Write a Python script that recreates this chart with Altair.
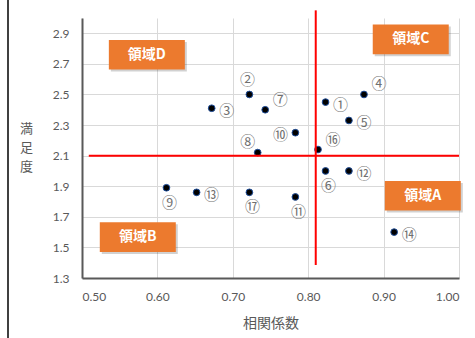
import altair as alt
import pandas as pd

# Data points
nums = ["①", "②", "③", "④", "⑤", "⑥", "⑦", "⑧", "⑨", "⑩", "⑪", "⑫", "⑬", "⑭", "⑯", "⑰"]
corr = [0.823, 0.722, 0.672, 0.874, 0.854, 0.823, 0.743, 0.733, 0.612, 0.783, 0.783, 0.854, 0.652, 0.914, 0.813, 0.722]
sat = [2.45, 2.50, 2.41, 2.50, 2.33, 2.00, 2.40, 2.12, 1.89, 2.25, 1.83, 2.00, 1.86, 1.60, 2.14, 1.86]
place = ["right", "above", "right", "upright", "right", "below", "upright", "upleft", "below", "left",
         "below", "right", "right", "right", "upright", "below"]

# Quadrant boxes
regions = ["領域D", "領域C", "領域A", "領域B"]
region_x = [0.586, 0.936, 0.952, 0.574]
region_y = [2.76, 2.86, 1.838, 1.567]

# Threshold lines
x_thresh = 0.81
y_thresh = 2.1

x_ticks = [0.5, 0.6, 0.7, 0.8, 0.9, 1.0]
y_ticks = [1.3, 1.5, 1.7, 1.9, 2.1, 2.3, 2.5, 2.7, 2.9]

df = pd.DataFrame({"num": nums, "x": corr, "y": sat, "place": place})
reg = pd.DataFrame({"label": regions, "x": region_x, "y": region_y})
hline = pd.DataFrame({"x": [0.509], "x2": [1.0], "y": [y_thresh]})
vline = pd.DataFrame({"x": [x_thresh], "y": [1.385], "y2": [3.05]})

xs = alt.Scale(domain=[0.5, 1.0], nice=False, zero=False)
ys = alt.Scale(domain=[1.3, 3.0], nice=False, zero=False)

x_axis = alt.Axis(
    values=x_ticks, format=".2f", title="相関係数", grid=True, gridColor="#d9d9d9",
    domainColor="#595959", domainWidth=2, ticks=False, labelPadding=13,
    labelColor="#595959", labelFont="Lato", labelFontSize=12, labelOverlap=False,
    titleColor="#595959", titleFont="Noto Sans CJK JP", titleFontSize=14,
    titleFontWeight="normal", titlePadding=14)
y_axis = alt.Axis(
    values=y_ticks, format=".1f", title=["満", "足", "度"], grid=True, gridColor="#d9d9d9",
    domainColor="#595959", domainWidth=2, ticks=False, labelPadding=13,
    labelColor="#595959", labelFont="Lato", labelFontSize=12, labelOverlap=False,
    titleColor="#595959", titleFont="Noto Sans CJK JP", titleFontSize=13,
    titleFontWeight="normal", titleAngle=0, titleX=-56, titleY=110,
    titleAlign="center", titleBaseline="middle", titleLineHeight=19)

X = alt.X("x:Q", scale=xs, axis=x_axis)
Y = alt.Y("y:Q", scale=ys, axis=y_axis)

base = alt.Chart(df)
pts = base.mark_point(filled=True, size=45, color="#000000", stroke="#1f4e9a",
                      strokeWidth=1, opacity=1).encode(x=X, y=Y)

offsets = {"right": (15, 3), "above": (-2, -14), "upright": (15, -10), "below": (3, 15),
           "upleft": (-10, -11), "left": (-15, 2)}
labels = []
for p, (dx, dy) in offsets.items():
    labels.append(base.transform_filter(alt.datum.place == p).mark_text(
        dx=dx, dy=dy, fontSize=15, color="#707070", font="Noto Sans CJK JP"
    ).encode(x=X, y=Y, text="num:N"))

red_h = alt.Chart(hline).mark_rule(color="#ff0000", strokeWidth=2, clip=False).encode(
    x=X, x2="x2:Q", y=Y)
red_v = alt.Chart(vline).mark_rule(color="#ff0000", strokeWidth=2, clip=False).encode(
    x=X, y=Y, y2="y2:Q")

box_path = "M-1,-0.39H1V0.39H-1Z"
shadow = alt.Chart(reg).mark_point(shape=box_path, filled=True, size=5776, color="#000000",
                                   opacity=0.18, xOffset=2, yOffset=2).encode(x=X, y=Y)
boxes = alt.Chart(reg).mark_point(shape=box_path, filled=True, size=5776, color="#ec7a2e",
                                  opacity=1).encode(x=X, y=Y)
box_text = alt.Chart(reg).mark_text(color="white", fontSize=14, font="Noto Sans CJK JP",
                                    fontWeight="bold").encode(x=X, y=Y, text="label:N")

frame = alt.Chart(df).mark_rule(color="#404040", strokeWidth=2, clip=False).encode(
    x=alt.value(-74), y=alt.value(-18), y2=alt.value(320))

chart = alt.layer(pts, *labels, red_h, red_v, shadow, boxes, box_text, frame).properties(
    width=377, height=260,
    autosize=alt.AutoSizeParams(type="none"),
    padding={"left": 82, "top": 18, "right": 16, "bottom": 60},
    background="white",
).configure_view(stroke=None).configure_axis(labelOverlap=False)

chart.save("out.html", embed_options={"renderer": "svg", "actions": False})
